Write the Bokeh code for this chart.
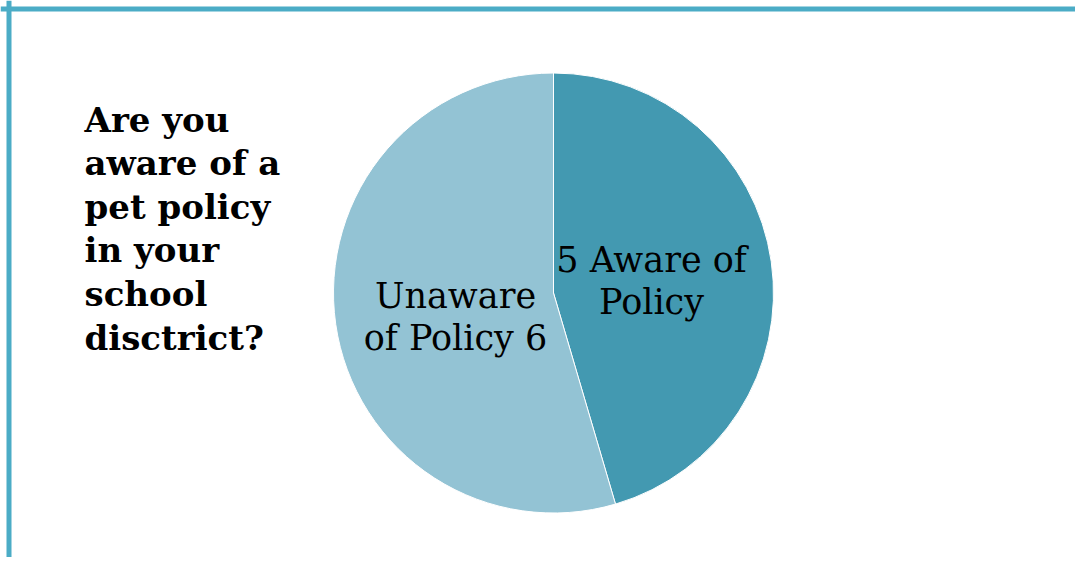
import math
from bokeh.plotting import figure
from bokeh.models import Range1d, Span, ColumnDataSource
from bokeh.core.properties import value
from bokeh.embed import file_html
from bokeh.resources import INLINE

# ---- data ----
CATEGORIES = ["Aware of Policy", "Unaware of Policy"]
COUNTS = [5, 6]
SLICE_COLORS = ["#4399B1", "#93C3D4"]
LABEL_LINES = [["5 Aware of", "Policy"], ["Unaware", "of Policy 6"]]
TITLE_LINES = ["Are you", "aware of a", "pet policy", "in your", "school", "disctrict?"]

# ---- layout (pixel-like data space, y measured from top via H - y) ----
W, H = 1075, 557
BASELINE_FIX = 13          # rendered alphabetic baseline sits this much lower
LABEL_BASELINE_FIX = 11
CX, CY_TOP, R = 553, 292.5, 220
CY = H - CY_TOP
LABEL_FRAC = 0.45
LABEL_NUDGE_Y = [0, -8]
LABEL_LINE_GAP = 42
CAP_HALF = 13
BORDER = "#4BACC6"

p = figure(width=W, height=H, x_range=Range1d(0, W), y_range=Range1d(0, H),
           output_backend="svg", toolbar_location=None,
           x_axis_type=None, y_axis_type=None, min_border=0)
p.grid.visible = False
p.outline_line_color = None
p.background_fill_color = "white"
p.border_fill_color = "white"

# pie
total = sum(COUNTS)
starts, ends, mids = [], [], []
cum = 0
for c in COUNTS:
    s = math.pi / 2 - 2 * math.pi * cum / total
    cum += c
    e = math.pi / 2 - 2 * math.pi * cum / total
    starts.append(s)
    ends.append(e)
    mids.append((s + e) / 2)

src = ColumnDataSource(dict(start=starts, end=ends, color=SLICE_COLORS, cat=CATEGORIES))
p.wedge(x=CX, y=CY, radius=R, start_angle="start", end_angle="end", direction="clock",
        fill_color="color", line_color="white", line_width=1, source=src)

# slice labels
lx, ly, lt = [], [], []
for i, m in enumerate(mids):
    bx = CX + R * LABEL_FRAC * math.cos(m)
    by = CY + R * LABEL_FRAC * math.sin(m) + LABEL_NUDGE_Y[i]
    n = len(LABEL_LINES[i])
    for j, line in enumerate(LABEL_LINES[i]):
        off = (j - (n - 1) / 2) * LABEL_LINE_GAP
        lx.append(bx)
        ly.append(by - off - CAP_HALF + LABEL_BASELINE_FIX)
        lt.append(line)
p.text(x=lx, y=ly, text=lt, text_font=value("DejaVu Serif"), text_font_size="35px",
       text_color="black", text_align="center", text_baseline="alphabetic")

# title
TX, TY0_TOP, TGAP = 84, 132, 43.6
p.text(x=[TX] * len(TITLE_LINES),
       y=[H - TY0_TOP - TGAP * i + BASELINE_FIX for i in range(len(TITLE_LINES))],
       text=TITLE_LINES, text_font=value("DejaVu Serif"), text_font_style="bold",
       text_font_size="34px", text_color="black", text_align="left",
       text_baseline="alphabetic")

# slide border (top and left)
p.add_layout(Span(location=8.5, dimension="height", line_color=BORDER, line_width=5))
p.add_layout(Span(location=H - 8.5, dimension="width", line_color=BORDER, line_width=5))

open("out.html", "w").write(file_html(p, INLINE))
